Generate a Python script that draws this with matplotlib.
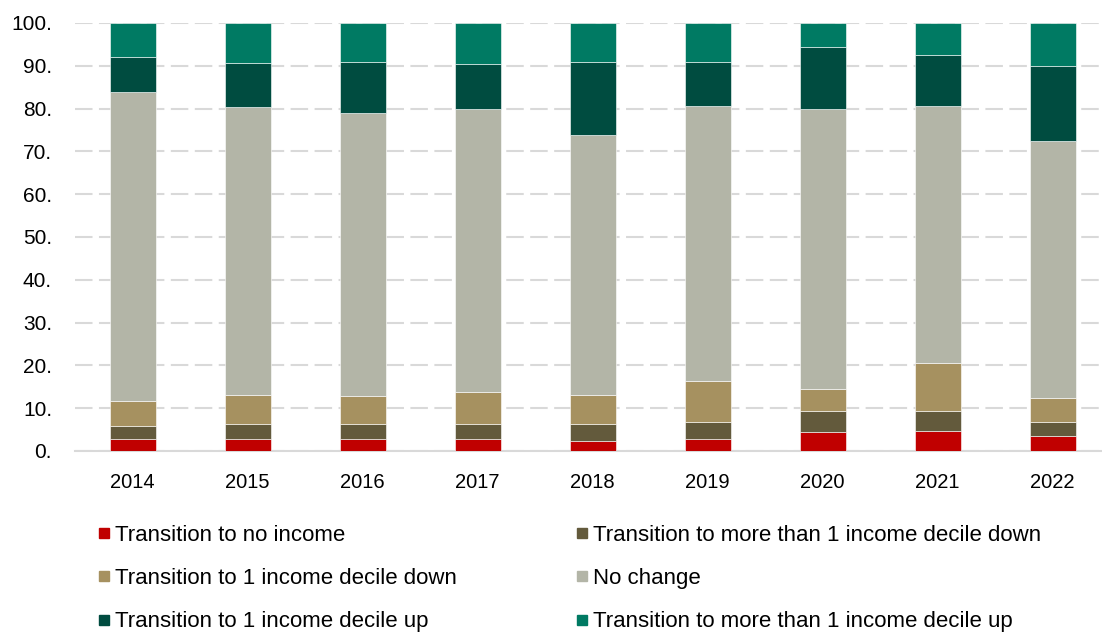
import matplotlib.pyplot as plt
from matplotlib.lines import Line2D
import numpy as np

# leitura aproximada do gráfico (percentual acumulado em cada ano)
anos = ['2014', '2015', '2016', '2017', '2018', '2019', '2020', '2021', '2022']
sem_renda = [2.9, 2.9, 2.9, 2.9, 2.4, 2.9, 4.4, 4.7, 3.4]
mais_1_decil_baixo = [3.0, 3.5, 3.5, 3.5, 4.0, 3.8, 4.9, 4.7, 3.3]
um_decil_baixo = [5.8, 6.6, 6.4, 7.5, 6.6, 9.7, 5.3, 11.2, 5.6]
sem_mudanca = [72.2, 67.3, 66.2, 65.9, 60.8, 64.3, 65.2, 59.9, 60.2]
um_decil_cima = [8.1, 10.3, 11.8, 10.6, 17.0, 10.1, 14.7, 12.0, 17.5]
mais_1_decil_cima = [8.0, 9.4, 9.2, 9.6, 9.2, 9.2, 5.5, 7.5, 10.0]

series = [sem_renda, mais_1_decil_baixo, um_decil_baixo, sem_mudanca,
          um_decil_cima, mais_1_decil_cima]
nomes = ['Transition to no income',
         'Transition to more than 1 income decile down',
         'Transition to 1 income decile down',
         'No change',
         'Transition to 1 income decile up',
         'Transition to more than 1 income decile up']
cores = ['#C00000', '#635A3C', '#A69160', '#B3B5A7', '#004C40', '#007A63']

plt.rcParams['font.family'] = ['Liberation Sans', 'DejaVu Sans']

fig = plt.figure(figsize=(11.02, 6.33), dpi=100)
ax = fig.add_axes([75 / 1102, 182 / 633, 1035 / 1102, 428 / 633])

x = np.arange(len(anos))
base = np.zeros(len(anos))
for valores, cor, nome in zip(series, cores, nomes):
    ax.bar(x, valores, bottom=base, width=0.4, color=cor, edgecolor='white',
           linewidth=0.4, label=nome, zorder=3)
    base += np.array(valores)

ax.set_xlim(-0.5, len(anos) - 0.5)
ax.set_ylim(0, 100)
ax.set_yticks(np.arange(0, 101, 10))
ax.set_yticklabels([f'{v}.' for v in range(0, 101, 10)])
ax.set_xticks(x)
ax.set_xticklabels(anos)
ax.tick_params(axis='x', length=0, labelsize=14.5, colors='black', pad=16)
ax.tick_params(axis='y', length=0, labelsize=15, colors='black', pad=16.5)

ax.grid(axis='y', color='#D9D9D9', linewidth=1.5, linestyle=(0, (8.4, 3.1)), zorder=0)
for lado in ['top', 'right', 'left']:
    ax.spines[lado].set_visible(False)
ax.spines['bottom'].set_color('#D9D9D9')
ax.spines['bottom'].set_linewidth(1.5)

# legenda em duas colunas, na ordem do original
ordem = [0, 2, 4, 1, 3, 5]
alcas = [Line2D([], [], marker='s', linestyle='none', markersize=7.5,
                markerfacecolor=cores[i], markeredgecolor=cores[i]) for i in ordem]
fig.legend(alcas, [nomes[i] for i in ordem], ncol=2, frameon=False,
           loc='upper left', bbox_to_anchor=(97 / 1102, 108 / 633),
           borderpad=0, borderaxespad=0, handlelength=0.6, handletextpad=0.2,
           labelspacing=1.0, columnspacing=5.35, fontsize=16)

fig.savefig('out.png', dpi=100)
